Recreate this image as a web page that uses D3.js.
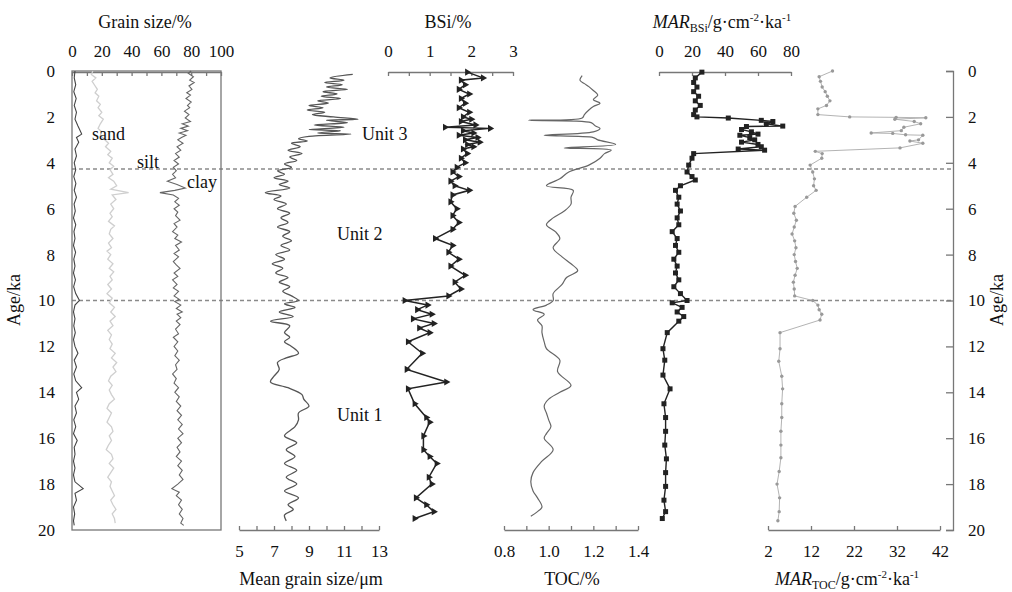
<!DOCTYPE html>
<html>
<head>
<meta charset="UTF-8">
<script src="https://d3js.org/d3.v7.min.js"></script>
<style>
  body { margin: 0; background: #fff; }
  svg, svg text { font-family: "Liberation Serif", "DejaVu Serif", serif !important; }
  svg text { fill: #111; }
  .ax path, .ax line { stroke: #777; stroke-width: 1.3; }
</style>
</head>
<body>
<svg id="chart" width="1012" height="592" font-family="Liberation Serif, serif"></svg>
<script>
// ---- data (age in ka, value) ----
const sand = [[0,2],[0.3,1.5],[0.6,2.5],[0.9,1.2],[1.2,2.8],[1.5,1.5],[1.8,3],[2.1,2],[2.4,4],[2.6,5.5],[2.75,6.5],[2.9,3],[3.1,4.5],[3.4,2],[3.7,3],[4,1.5],[4.3,2.5],[4.6,1.2],[4.9,2.6],[5.2,1.5],[5.5,3],[5.8,1.4],[6.1,2.2],[6.4,1],[6.7,2.5],[7,1.3],[7.3,2],[7.6,1],[7.9,2.4],[8.2,1.2],[8.5,2],[8.8,1],[9.1,2.3],[9.4,1.1],[9.7,2.5],[10,5],[10.2,2],[10.5,1],[10.8,2],[11.1,1.2],[11.4,2.2],[11.7,1],[12,2],[12.3,4],[12.6,1.5],[12.9,3],[13.2,1.2],[13.5,2.5],[13.8,6.5],[14,3],[14.3,4.5],[14.6,2],[14.9,3],[15.2,1.2],[15.5,2.5],[15.8,1],[16.1,3.5],[16.4,1.5],[16.7,2],[17,1],[17.3,2],[17.6,1],[17.9,2],[18.2,7.5],[18.4,2],[18.7,3],[19,1],[19.3,1.8],[19.6,1],[19.8,1.5]];
const silt = [[0,14],[0.15,13],[0.3,16],[0.45,13.5],[0.6,15],[0.8,17],[0.95,15.5],[1.1,18],[1.3,16.5],[1.45,19],[1.6,17.5],[1.8,20],[1.95,18],[2.1,21],[2.3,19],[2.5,17.5],[2.65,20],[2.8,19],[3,22],[3.15,24.5],[3.3,22.5],[3.5,26],[3.65,24],[3.8,27],[4,25],[4.15,28],[4.3,25.5],[4.5,27.5],[4.65,24.5],[4.8,28],[5,30],[5.15,26],[5.3,38],[5.4,27],[5.6,29.5],[5.8,26],[6,28],[6.2,25.5],[6.35,27],[6.55,24.5],[6.75,28.5],[6.9,26],[7.1,25],[7.3,27.5],[7.5,24.5],[7.7,26.5],[7.85,23.5],[8,26],[8.2,24],[8.4,27.5],[8.6,25],[8.75,28],[8.95,25.5],[9.1,27],[9.3,24],[9.5,26.5],[9.7,23.5],[9.9,27],[10.1,25],[10.3,28.5],[10.5,26],[10.7,29],[10.9,25.5],[11.1,27.5],[11.3,24],[11.5,26.5],[11.7,25],[11.9,27],[12.1,25.5],[12.3,29],[12.5,26.5],[12.7,30],[12.9,27.5],[13.1,29.5],[13.3,26],[13.5,24.5],[13.7,27],[13.9,25],[14.1,26.5],[14.3,28.5],[14.5,25],[14.7,23.5],[14.9,26.5],[15.1,25],[15.3,23.5],[15.5,26.5],[15.7,27.5],[15.9,25],[16.1,26.5],[16.3,24.5],[16.5,23],[16.7,26.5],[16.9,27.5],[17.1,25],[17.3,28],[17.5,26],[17.7,24],[17.9,26.5],[18.1,25.5],[18.3,27],[18.5,28.5],[18.7,26],[18.9,27.5],[19.1,29.5],[19.3,27],[19.5,28.5],[19.7,29]];
const clay = [[0,80],[0.1,78],[0.25,81.5],[0.4,79],[0.5,82],[0.65,78.5],[0.8,80.5],[0.95,77],[1.05,79.5],[1.2,76.5],[1.35,80],[1.5,77.5],[1.6,79],[1.75,75.5],[1.9,78.5],[2.05,76],[2.2,79.5],[2.3,74],[2.4,78],[2.5,73],[2.6,77.5],[2.7,72],[2.8,76.5],[2.9,73.5],[3,71],[3.15,74.5],[3.3,70.5],[3.45,73],[3.6,69.5],[3.75,72],[3.9,68.5],[4.05,71.5],[4.2,68],[4.35,70],[4.5,67.5],[4.65,69.5],[4.8,64],[4.95,70.5],[5.1,76],[5.2,69],[5.3,59],[5.4,68],[5.55,71.5],[5.7,69],[5.85,72],[6,68.5],[6.15,71],[6.3,69.5],[6.5,72.5],[6.65,68.5],[6.8,70.5],[7,67.5],[7.15,71],[7.3,69],[7.45,73.5],[7.6,69.5],[7.8,72],[7.95,68.5],[8.1,71.5],[8.3,68],[8.45,70],[8.6,72.5],[8.8,68.5],[8.95,71],[9.1,67.5],[9.3,70.5],[9.45,68],[9.6,71.5],[9.8,68.5],[9.95,72],[10.05,69],[10.2,73],[10.35,70],[10.5,74],[10.6,70.5],[10.75,73],[10.9,70],[11.05,72.5],[11.25,69.5],[11.45,71.5],[11.6,68],[11.8,71],[12,68.5],[12.2,71],[12.4,69],[12.6,72],[12.8,69.5],[13,70.5],[13.2,67.5],[13.4,70],[13.6,68.5],[13.8,71.5],[14,69],[14.2,72],[14.4,70],[14.6,73],[14.8,70.5],[15,73.5],[15.2,71],[15.4,74],[15.6,71.5],[15.8,74.5],[16,71],[16.2,73.5],[16.4,70.5],[16.6,72.5],[16.8,70],[17,73.5],[17.2,71],[17.4,74],[17.6,72],[17.8,74.5],[18,71],[18.2,67],[18.35,72],[18.5,70],[18.7,73.5],[18.9,71.5],[19.1,74],[19.3,72],[19.5,74.5],[19.7,73],[19.8,75]];
const meanGrain = [[0.15,11.5],[0.3,10.2],[0.4,11],[0.5,9.9],[0.6,10.9],[0.7,10],[0.8,11.2],[0.9,9.8],[1,10.6],[1.1,9.7],[1.2,10.8],[1.3,9.5],[1.4,10.1],[1.5,9],[1.6,9.8],[1.7,8.9],[1.8,9.9],[1.9,9.2],[2,10.4],[2.1,11.8],[2.15,10],[2.25,11.2],[2.35,9.3],[2.45,11],[2.55,9],[2.6,10.8],[2.7,9.5],[2.75,11.4],[2.85,9],[2.95,8.4],[3.05,8.9],[3.15,8],[3.3,8.5],[3.45,7.8],[3.6,8.6],[3.75,7.9],[3.9,8.3],[4.05,7.6],[4.2,8],[4.35,7.2],[4.5,7.6],[4.65,7],[4.8,7.8],[4.95,7.3],[5.1,7.9],[5.3,6.5],[5.45,7.4],[5.6,7],[5.8,7.7],[6,7.2],[6.2,7.9],[6.4,7.4],[6.6,7.8],[6.8,7.2],[7,7.9],[7.2,7.5],[7.4,8],[7.6,7.4],[7.8,7.9],[8,7.1],[8.2,7.6],[8.4,6.9],[8.6,7.5],[8.8,7.1],[9,7.8],[9.2,7.3],[9.4,7.9],[9.6,7.5],[9.8,8],[10,8.4],[10.15,7.6],[10.3,8.2],[10.5,7.3],[10.7,8.1],[10.9,6.8],[11.1,7.9],[11.4,7.6],[11.6,7.9],[11.8,7.6],[12,8],[12.3,8.4],[12.5,7.7],[12.7,7.2],[13,7.3],[13.3,7],[13.55,6.8],[13.8,7.8],[14.1,8.6],[14.3,8.7],[14.6,9],[14.9,8.4],[15.2,8.4],[15.5,8.2],[15.9,7.6],[16.2,8.3],[16.5,7.7],[16.8,8.2],[17.1,7.6],[17.4,8.3],[17.7,7.7],[18,8.3],[18.3,7.6],[18.6,8.4],[18.9,7.8],[19.1,8.1],[19.35,7.6],[19.6,7.7]];
const bsi = [[0.05,1.9],[0.3,2.28],[0.4,1.75],[0.6,1.85],[0.8,1.7],[1,1.95],[1.2,1.75],[1.4,1.85],[1.6,1.7],[1.8,1.95],[2,1.8],[2.1,2],[2.2,1.75],[2.35,2.1],[2.45,1.37],[2.5,2.45],[2.6,1.8],[2.7,2.05],[2.8,1.7],[2.9,2.15],[3,1.85],[3.1,2.2],[3.2,1.9],[3.3,2.05],[3.4,1.8],[3.6,1.9],[3.8,1.75],[4,1.85],[4.2,1.65],[4.4,1.55],[4.6,1.7],[4.8,1.5],[5,1.6],[5.2,1.95],[5.4,1.55],[5.7,1.5],[6,1.65],[6.3,1.55],[6.6,1.7],[6.9,1.55],[7.3,1.13],[7.6,1.55],[7.9,1.45],[8.2,1.7],[8.5,1.5],[8.9,1.85],[9.2,1.6],[9.5,1.75],[9.8,1.45],[10,0.4],[10.2,0.95],[10.4,0.7],[10.6,1.05],[10.8,0.6],[11,1.1],[11.2,0.75],[11.4,1],[11.8,0.48],[12.3,0.82],[13,0.45],[13.55,1.4],[13.85,0.48],[14.5,0.64],[15.1,0.92],[15.3,1],[15.9,0.85],[16.5,0.85],[16.8,1],[17.1,1.17],[17.7,0.98],[18,1.05],[18.6,0.67],[18.9,0.92],[19.2,1.1],[19.5,0.64]];
const toc = [[0.2,1.15],[0.4,1.14],[0.55,1.16],[0.68,1.18],[0.85,1.2],[1.05,1.22],[1.25,1.2],[1.4,1.23],[1.55,1.2],[1.7,1.18],[1.9,1.16],[2.05,1.15],[2.15,0.91],[2.25,1.19],[2.4,1.21],[2.5,1.23],[2.65,1.2],[2.8,0.98],[2.9,1.2],[3,1.22],[3.2,1.3],[3.35,1.07],[3.45,1.28],[3.6,1.25],[3.8,1.23],[4.1,1.18],[4.4,1.09],[4.7,1.05],[5,0.99],[5.2,1.11],[5.5,1.1],[5.8,1.1],[6.1,1.07],[6.4,1.02],[6.7,0.99],[7,1.03],[7.3,1.05],[7.7,1.02],[8.1,1.06],[8.4,1.1],[8.7,1.13],[9,1.08],[9.3,1.06],[9.7,1.02],[10,1.02],[10.2,0.99],[10.4,0.93],[10.6,0.98],[10.85,0.95],[11.1,0.97],[11.4,0.97],[11.8,0.98],[12.1,0.99],[12.6,1.05],[13.1,1.04],[13.7,1.1],[14,1.05],[14.3,1.0],[14.6,0.98],[14.9,0.99],[15.2,1.0],[15.5,1.01],[15.8,0.99],[16,0.98],[16.5,1.02],[17,0.97],[17.5,0.93],[17.9,0.92],[18.3,0.93],[18.6,0.95],[19,0.97],[19.2,0.95],[19.4,0.92]];
const marBsi = [[0.05,26],[0.3,22],[0.5,21],[0.7,23],[0.9,21],[1.1,24],[1.3,22],[1.5,25],[1.7,22],[1.9,21],[2,23],[2.05,42],[2.15,62],[2.2,69],[2.3,65],[2.4,75],[2.42,53],[2.55,50],[2.65,56],[2.75,60],[2.8,49],[2.9,55],[3,58],[3.1,50],[3.2,60],[3.3,62],[3.4,48],[3.45,64],[3.6,21],[3.8,20],[4.1,18],[4.4,17],[4.6,20],[4.75,22],[5,13],[5.2,10],[5.5,12],[5.8,11],[6.1,13],[6.4,11],[6.7,12],[7,8],[7.3,11],[7.6,10],[7.9,12],[8.2,9],[8.5,11],[8.8,10],[9.1,12],[9.4,9],[9.7,13],[10,17],[10.1,8],[10.3,14],[10.5,11],[10.7,15],[10.9,12],[11.4,5],[12.1,2.4],[12.6,3.5],[13.25,2.4],[13.85,6.7],[14.5,3],[15.1,4],[15.7,4],[16.3,3.5],[16.9,4.5],[17.5,4],[18.1,4],[18.7,3],[19.2,4],[19.5,2]];
const marToc = [[0,17],[0.25,13.9],[0.45,14.2],[0.7,14.6],[0.9,15.3],[1.1,15.8],[1.3,16.4],[1.5,15.6],[1.65,13.6],[1.9,13.6],[2,21],[2.02,31.8],[2.04,38.7],[2.1,31.5],[2.2,36],[2.3,37.5],[2.45,33.6],[2.6,33],[2.7,26],[2.72,31],[2.78,34],[2.8,38],[3,37],[3.05,35],[3.15,38],[3.35,32.7],[3.5,13],[3.6,14.6],[3.8,14.5],[4.1,11.8],[4.4,12.4],[4.7,12.8],[5,12.6],[5.2,13.2],[5.5,11],[5.9,8.3],[6.2,8],[6.5,8.6],[6.8,8.1],[7.1,7.6],[7.4,8.2],[7.7,8.5],[8,8.1],[8.3,8.4],[8.6,8.8],[8.9,8.3],[9.2,7.9],[9.5,8.1],[9.8,8.2],[10,12.4],[10.2,13.6],[10.4,13.9],[10.6,14.5],[10.85,14.1],[11.4,4.8],[12.1,4.8],[12.65,4.5],[13.3,5.2],[13.85,5.4],[14.5,5.2],[15.1,5.2],[15.7,5],[16.3,5],[16.85,5],[17.45,4.6],[18,4.1],[18.6,4.7],[19.2,4.6],[19.6,4.3]];
const unitBounds = [4.27, 10];
const unitLabels = [["Unit 3", 2.75], ["Unit 2", 7.1], ["Unit 1", 15.0]];
const grainLabels = [["sand", 2.75], ["silt", 3.95], ["clay", 4.85]];

const svg = d3.select("#chart");
const FONT = "Liberation Serif, DejaVu Serif, serif";

// shared age scale
const y = d3.scaleLinear().domain([0, 20]).range([71, 530]);

// x scales for each panel
const xGrain = d3.scaleLinear().domain([0, 100]).range([72, 221]);
const xMean = d3.scaleLinear().domain([5, 13]).range([239, 379]);
const xBsi = d3.scaleLinear().domain([0, 3]).range([388, 513]);
const xToc = d3.scaleLinear().domain([0.8, 1.4]).range([504, 638]);
const xMarB = d3.scaleLinear().domain([0, 80]).range([659, 791]);
const xMarT = d3.scaleLinear().domain([2, 42]).range([768, 940]);

const line = sx => d3.line().x(d => sx(d[1])).y(d => y(d[0]));
const smooth = sx => d3.line().curve(d3.curveCatmullRom).x(d => sx(d[1])).y(d => y(d[0]));

// unit boundaries (dashed)
svg.selectAll("line.bound").data(unitBounds).join("line")
  .attr("x1", 72).attr("x2", 953)
  .attr("y1", d => y(d)).attr("y2", d => y(d))
  .attr("stroke", "#8a8a8a").attr("stroke-width", 1.6).attr("stroke-dasharray", "4,3");

// grain size box
svg.append("rect").attr("x", 72).attr("y", 71).attr("width", 149).attr("height", 459)
  .attr("fill", "none").attr("stroke", "#777").attr("stroke-width", 1.3);

// top axes
const topAxis = (sx, ticks, fmt) => svg.append("g").attr("class", "ax").attr("transform", "translate(0,72)")
  .call(d3.axisTop(sx).tickValues(ticks).tickSizeInner(-4).tickSizeOuter(0).tickPadding(15).tickFormat(fmt));
topAxis(xGrain, d3.range(0, 101, 10), d => d % 20 === 0 ? d : "");
topAxis(xBsi, d3.range(0, 3.01, 0.5), d => Number.isInteger(d) ? d : "");
topAxis(xMarB, d3.range(0, 81, 20), d => d);

// bottom axes
const botAxis = (sx, ticks, fmt) => svg.append("g").attr("class", "ax").attr("transform", "translate(0,530)")
  .call(d3.axisBottom(sx).tickValues(ticks).tickSizeInner(-4).tickSizeOuter(0).tickPadding(15).tickFormat(fmt));
botAxis(xMean, d3.range(5, 13.01, 1), d => d % 2 === 1 ? d : "");
botAxis(xToc, d3.range(0.8, 1.41, 0.1), d => Math.round(d * 10) % 2 === 0 ? d3.format(".1f")(d) : "");
botAxis(xMarT, d3.range(2, 43, 10), d => d);

// left and right age axes
const leftAx = svg.append("g").attr("class", "ax").attr("transform", "translate(72,0)")
  .call(d3.axisLeft(y).tickValues(d3.range(0, 21, 2)).tickSize(0).tickPadding(17));
leftAx.select(".domain").remove();
svg.append("g").attr("class", "ax").attr("transform", "translate(953,0)")
  .call(d3.axisRight(y).tickValues(d3.range(0, 21, 2)).tickSizeInner(-7).tickSizeOuter(-7).tickPadding(15));
svg.selectAll(".ax").attr("font-family", FONT).attr("font-size", 17);
svg.selectAll(".ax text").attr("fill", "#111");

// grain size curves
svg.append("path").datum(silt).attr("d", line(xGrain)).attr("fill", "none").attr("stroke", "#cfcfcf").attr("stroke-width", 1.3);
svg.append("path").datum(clay).attr("d", line(xGrain)).attr("fill", "none").attr("stroke", "#666").attr("stroke-width", 1.1);
svg.append("path").datum(sand).attr("d", line(xGrain)).attr("fill", "none").attr("stroke", "#444").attr("stroke-width", 1.1);

// mean grain size
svg.append("path").datum(meanGrain).attr("d", smooth(xMean)).attr("fill", "none").attr("stroke", "#555").attr("stroke-width", 1.3);

// BSi with triangle markers
svg.append("path").datum(bsi).attr("d", line(xBsi)).attr("fill", "none").attr("stroke", "#222").attr("stroke-width", 1.5);
svg.selectAll("path.tri").data(bsi).join("path").attr("class", "tri")
  .attr("d", d3.symbol(d3.symbolTriangle, 22))
  .attr("transform", d => `translate(${xBsi(d[1])},${y(d[0])}) rotate(90)`)
  .attr("fill", "#222");

// TOC
svg.append("path").datum(toc).attr("d", smooth(xToc))
  .attr("fill", "none").attr("stroke", "#666").attr("stroke-width", 1.2);

// MAR BSi with square markers
svg.append("path").datum(marBsi).attr("d", line(xMarB)).attr("fill", "none").attr("stroke", "#222").attr("stroke-width", 1.4);
svg.selectAll("rect.sq").data(marBsi).join("rect").attr("class", "sq")
  .attr("x", d => xMarB(d[1]) - 2.5).attr("y", d => y(d[0]) - 2.5)
  .attr("width", 5).attr("height", 5).attr("fill", "#222");

// MAR TOC with small dots
svg.append("path").datum(marToc).attr("d", line(xMarT)).attr("fill", "none").attr("stroke", "#aaa").attr("stroke-width", 0.9);
svg.selectAll("circle.dot").data(marToc).join("circle").attr("class", "dot")
  .attr("cx", d => xMarT(d[1])).attr("cy", d => y(d[0])).attr("r", 1.7).attr("fill", "#999");

// in-plot labels
svg.selectAll("text.unit").data(unitLabels).join("text").attr("class", "unit")
  .attr("x", (d, i) => i === 0 ? 362 : 337).attr("y", d => y(d[1]) + 6)
  .attr("font-family", FONT).attr("font-size", 18).text(d => d[0]);
svg.selectAll("text.gl").data(grainLabels).join("text").attr("class", "gl")
  .attr("x", (d, i) => [92, 137, 187][i]).attr("y", d => y(d[1]) + 6)
  .attr("font-family", FONT).attr("font-size", 18).text(d => d[0]);

// titles
const title = (x, yy, txt) => svg.append("text").attr("x", x).attr("y", yy)
  .attr("text-anchor", "middle").attr("font-family", FONT).attr("font-size", 18).text(txt);
title(145, 28, "Grain size/%");
title(448, 28, "BSi/%");
title(311, 585, "Mean grain size/\u03bcm");
title(572, 585, "TOC/%");

const marTitle = (x, yy, sub) => {
  const t = svg.append("text").attr("x", x).attr("y", yy).attr("text-anchor", "middle")
    .attr("font-family", FONT).attr("font-size", 18);
  t.append("tspan").attr("font-style", "italic").text("MAR");
  t.append("tspan").attr("font-size", 12).attr("dy", 4).text(sub);
  t.append("tspan").attr("dy", -4).text("/g\u00b7cm");
  t.append("tspan").attr("font-size", 11).attr("dy", -7).text("-2");
  t.append("tspan").attr("dy", 7).text("\u00b7ka");
  t.append("tspan").attr("font-size", 11).attr("dy", -7).text("-1");
};
marTitle(722, 28, "BSi");
marTitle(847, 585, "TOC");

svg.append("text").attr("transform", "translate(20,300) rotate(-90)")
  .attr("text-anchor", "middle").attr("font-family", FONT).attr("font-size", 18).text("Age/ka");
svg.append("text").attr("transform", "translate(1003,300) rotate(-90)")
  .attr("text-anchor", "middle").attr("font-family", FONT).attr("font-size", 18).text("Age/ka");
</script>
</body>
</html>
